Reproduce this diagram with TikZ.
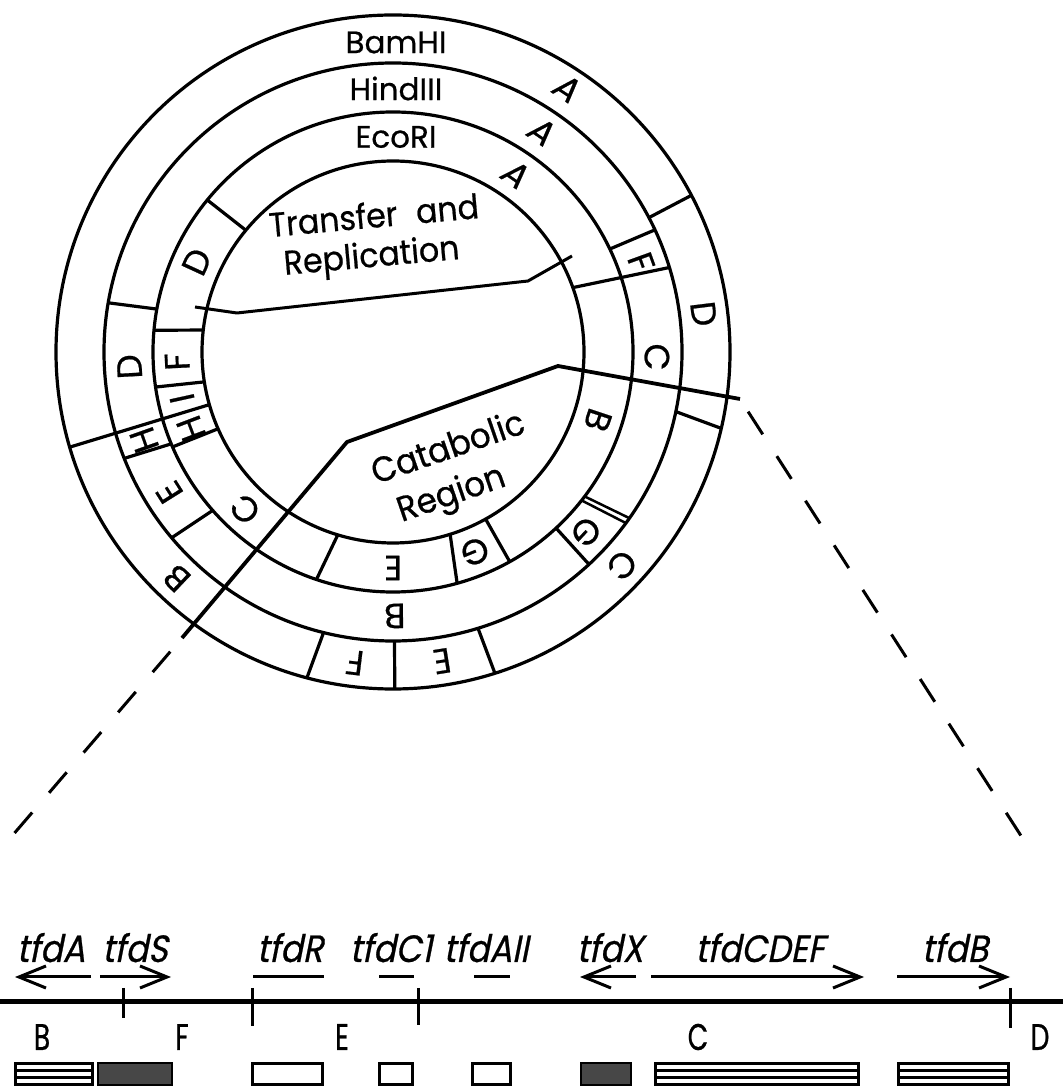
\documentclass[tikz,border=0pt]{standalone}
\usepackage{fontspec}
\setmainfont{Poppins}[FakeBold=0.6]
\newfontfamily\regionfont[FakeStretch=0.93,FakeBold=0.6]{Poppins}
\newfontfamily\genefont[FakeSlant=0.2,FakeStretch=0.88,FakeBold=0.6]{Poppins}
\newfontfamily\segfont[FakeStretch=0.72,FakeBold=0.6]{Poppins}
\usetikzlibrary{arrows.meta}

\begin{document}
\begin{tikzpicture}[x=1pt,y=1pt,
  ring/.style={line width=3.2pt},
  cut/.style={line width=3.2pt},
  bound/.style={line width=3.8pt, line join=round},
  dashline/.style={line width=3pt, dash pattern=on 27pt off 26pt},
  ringname/.style={font=\fontsize{31}{31}\selectfont, inner sep=0pt},
  frag/.style={font=\fontsize{35}{35}\selectfont, inner sep=0pt},
  region/.style={font=\regionfont\fontsize{34}{39}\selectfont, inner sep=0pt, align=center},
  gene/.style={font=\genefont\fontsize{38}{38}\selectfont, inner sep=0pt, anchor=base},
  seg/.style={font=\segfont\fontsize{37}{37}\selectfont, inner sep=0pt},
  genearrow/.style={line width=3pt, -{Straight Barb[length=27pt,width=22pt]}},
  geneline/.style={line width=3pt},
  mainline/.style={line width=5pt},
  tick/.style={line width=3pt},
  striped/.style={line width=3pt},
  stipple/.style={line width=2pt, fill=black!72},
  plainbox/.style={line width=3pt}
]
\useasboundingbox (0,0) rectangle (1063,1088);

% ---------------- circular restriction map ----------------
\begin{scope}[shift={(393,736)}]
  \draw[ring] (0,0) circle[radius=337];
  \draw[ring] (0,0) circle[radius=289];
  \draw[ring] (0,0) circle[radius=240];
  \draw[ring] (0,0) circle[radius=191];

  % enzyme names
  \node[ringname] (nBam) at (3,309.5) {BamHI};
  \node[ringname] (nHin) at (3,263.5) {HindIII};
  \node[ringname] (nEco) at (3,215) {EcoRI};

  % BamHI fragment boundaries
  \draw[cut] (27.7:289) -- (27.7:337);
  \draw[cut] (-11.9:289) -- (-13.1:337);
  \draw[cut] (-72.9:289) -- (-72.4:337);
  \draw[cut] (-89.7:289) -- (-89.7:337);
  \draw[cut] (-103.9:289) -- (-104.8:337);
  \draw[cut] (-163.6:337) -- (-164.0:191);

  % HindIII fragment boundaries
  \draw[cut] (25.4:240) -- (25.0:289);
  \draw[cut] (169.7:240) -- (170.2:289);
  \draw[cut] (-157.5:240) -- (-158.4:289);
  \draw[cut] (-138.7:240) -- (-140.0:289);
  \draw[cut] (-47.2:240) -- (-47.3:289);
  \draw[line width=2.5pt] (-37.0:240) -- (-35.1:289);
  \draw[line width=2.5pt] (-38.2:240) -- (-36.3:289);
  \draw[cut] (19.7:191) -- (17.0:289);

  % EcoRI fragment boundaries
  \draw[cut] (140.4:191) -- (140.7:240);
  \draw[cut] (173.4:191) -- (174.8:240);
  \draw[cut] (-171.0:191) -- (-171.6:240);
  \draw[cut] (-156.3:191) -- (-156.7:240);
  \draw[cut] (-106.8:191) -- (-108.6:240);
  \draw[cut] (-72.6:191) -- (-74.5:240);
  \draw[cut] (-61.0:191) -- (-60.9:240);

  % BamHI fragments
  \node[frag, rotate=-33.5] (bA) at (56.5:316) {\textit{A}};
  \node[frag, rotate=-83]   (bD) at (7:313) {D};
  \node[frag, rotate=-133]  (bC) at (-43:313) {C};
  \node[frag, rotate=-171]  (bE) at (-81:313) {E};
  \node[frag, rotate=173]   (bF) at (-97:313) {F};
  \node[frag, rotate=136.3] (bB) at (-133.7:313) {B};

  % HindIII fragments
  \node[frag, rotate=-34.1] (hA) at (55.9:266) {\textit{A}};
  \node[frag, rotate=-70.1] (hF) at (19.9:264) {F};
  \node[frag, rotate=-91.1] (hC) at (-1.1:264) {C};
  \node[frag, rotate=-133]  (hG) at (-43:264) {G};
  \node[frag, rotate=180.4] (hB) at (-89.6:264) {B};
  \node[frag, rotate=122.1] (hE) at (-147.9:264) {E};
  \node[frag, rotate=109.5] (hH) at (-160.5:264) {H};
  \node[frag, rotate=93.2]  (hD) at (183.2:264) {D};

  % EcoRI fragments
  \node[frag, rotate=-34.7] (eA) at (55.3:216) {\textit{A}};
  \node[frag, rotate=-108.4] (eB) at (-18.4:216) {B};
  \node[frag, rotate=-157.7] (eG) at (-67.7:216) {G};
  \node[frag, rotate=180]   (eE) at (-90:216) {E};
  \node[frag, rotate=136.7] (eC) at (-133.3:216) {C};
  \node[frag, rotate=110.8] (eH) at (-159.2:216) {H};
  \node[frag, rotate=102.4] (eI) at (-167.6:216) {I};
  \node[frag, rotate=92.6]  (eF) at (182.6:216) {F};
  \node[frag, rotate=65.3]  (eD) at (155.3:216) {D};
\end{scope}

% transfer and replication region
\coordinate (tr1) at (195,781);
\coordinate (tr2) at (237,775);
\coordinate (tr3) at (528,807);
\coordinate (tr4) at (572,832);
\draw[bound, line width=3pt] (tr1) -- (tr2) -- (tr3) -- (tr4);
\node[region, rotate=5.2] (tr) at (370,849)
  {\hspace*{12pt}Transfer\hspace{0.55em}and\\Replication};

% catabolic region
\coordinate (ca1) at (182,450);
\coordinate (ca2) at (347,646);
\coordinate (ca3) at (558,722);
\coordinate (ca4) at (740,689);
\draw[bound] (ca1) -- (ca2) -- (ca3) -- (ca4);
\node[region, rotate=19, font=\regionfont\fontsize{35}{44}\selectfont] (ca) at (456,617)
  {Catabolic\\Region\hspace*{24pt}};

% zoom-out guides to the linear map
\coordinate (zl) at (12,252);
\coordinate (zr) at (1025,246);
\draw[dashline, dash phase=-18pt] (ca1) -- (zl);
\draw[dashline, dash phase=-15pt] (ca4) -- (zr);

% ---------------- linear map of the catabolic region ----------------
\draw[mainline] (0,86) -- (1063,86);
\foreach \n/\x/\lo in {kBF/123/70, kFE/252/62, kEC/418/63, kCD/1010/60}{
  \coordinate (\n-top) at (\x,100);
  \coordinate (\n-bot) at (\x,\lo);
  \draw[tick] (\n-top) -- (\n-bot);
}

% fragment letters
\node[seg] (sB) at (42,51) {B};
\node[seg] (sF) at (182,51) {F};
\node[seg] (sE) at (342,51) {E};
\node[seg] (sC) at (698,51) {C};
\node[seg] (sD) at (1040,51) {D};

% genes
\node[gene] (gA)   at (51,126)  {tfdA};
\node[gene] (gS)   at (135,126) {tfdS};
\node[gene] (gR)   at (290,126) {tfdR};
\node[gene] (gC1)  at (391,126) {tfdC1};
\node[gene] (gAII) at (486,126) {tfdAII};
\node[gene] (gX)   at (610,126) {tfdX};
\node[gene] (gCDEF) at (760,126) {tfdCDEF};
\node[gene] (gB)   at (955,126) {tfdB};

\coordinate (aA1) at (91,111);  \coordinate (aA2) at (15,111);
\coordinate (aS1) at (100,111); \coordinate (aS2) at (171,111);
\coordinate (aR1) at (253,111); \coordinate (aR2) at (324,111);
\coordinate (aC1) at (379,111); \coordinate (aC2) at (414,111);
\coordinate (aL1) at (474,111); \coordinate (aL2) at (510,111);
\coordinate (aX1) at (636,111); \coordinate (aX2) at (580,111);
\coordinate (aD1) at (651,111); \coordinate (aD2) at (864,111);
\coordinate (aB1) at (897,111); \coordinate (aB2) at (1010,111);
\draw[genearrow] (aA1) -- (aA2);
\draw[genearrow] (aS1) -- (aS2);
\draw[geneline]  (aR1) -- (aR2);
\draw[geneline]  (aC1) -- (aC2);
\draw[geneline]  (aL1) -- (aL2);
\draw[genearrow] (aX1) -- (aX2);
\draw[genearrow] (aD1) -- (aD2);
\draw[genearrow] (aB1) -- (aB2);

% gene-class boxes
\foreach \a/\b in {15.5/92, 655/858, 898/1008}{
  \draw[striped] (\a,3.5) rectangle (\b,24.5);
  \draw[striped] (\a,10.5) -- (\b,10.5);
  \draw[striped] (\a,17.5) -- (\b,17.5);
}
\foreach \a/\b in {98/172, 581/631}{
  \draw[stipple] (\a,3) rectangle (\b,25);
}
\foreach \a/\b in {252/322, 379/412, 472/510}{
  \draw[plainbox] (\a,3.5) rectangle (\b,24.5);
}
\end{tikzpicture}
\end{document}
